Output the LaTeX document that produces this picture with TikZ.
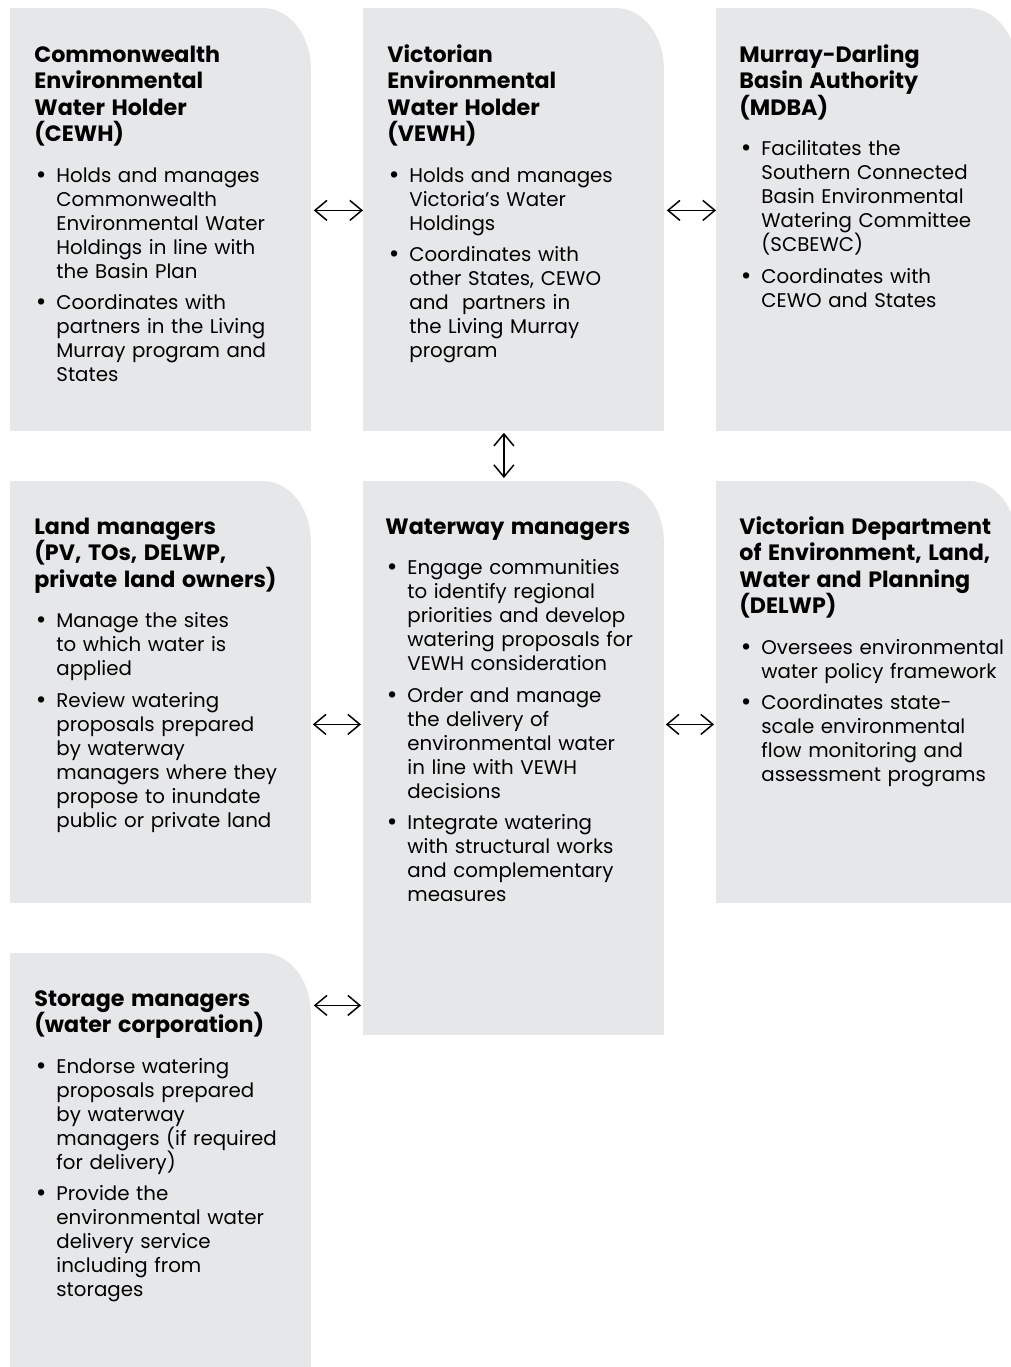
\documentclass[tikz,border=0pt]{standalone}
\usepackage{fontspec}
\setmainfont{Poppins}
\usepackage{tikz}
\usetikzlibrary{arrows.meta,positioning}

\definecolor{panelgrey}{RGB}{230,231,232}
\setlength{\parskip}{0pt}

% heading and bullet lines inside a panel
\newcommand{\hd}[1]{{\bfseries\fontsize{11.1pt}{13.25pt}\selectfont #1\par}\vspace{4.5pt}}
\newcommand{\itm}[1]{\par\vspace{3.75pt}\leftskip=11pt\noindent
  \llap{\raisebox{-0.5pt}{\scalebox{1.3}{\textbullet}}\hspace{5pt}}#1\par}

\begin{document}
\begin{tikzpicture}[x=0.5pt,y=-0.5pt, >={Straight Barb[length=6pt,width=10pt]}]
		\tikzstyle{panel}=[anchor=north west, inner sep=0pt, minimum width=150pt]
		\tikzstyle{txt}=[anchor=base west, inner sep=0pt, text width=142pt, align=left,
		  font=\fontsize{9.9pt}{12pt}\selectfont]
		\tikzstyle{link}=[<->, line width=0.75pt]
		
		\useasboundingbox (0,0) rectangle (1011,1367);
		\clip (0,0) rectangle (1011,1367);
		
		% panels
		\node[panel, minimum height=211pt]   (cewh)     at (10,8)    {};
		\node[panel, minimum height=211pt]   (vewh)     at (363,8)   {};
		\node[panel, minimum height=211pt]   (mdba)     at (716,8)   {};
		\node[panel, minimum height=210.5pt] (land)     at (10,481)  {};
		\node[panel, minimum height=276.5pt] (waterway) at (363,481) {};
		\node[panel, minimum height=210.5pt] (delwp)    at (716,481) {};
		\node[panel, minimum height=207pt]   (storage)  at (10,953)  {};
		
		\foreach \n in {cewh,vewh,mdba,land,waterway,delwp,storage}
		  \fill[panelgrey] (\n.south west) -- (\n.north west) -- ([xshift=-24pt]\n.north east)
		    arc[start angle=90, end angle=0, x radius=24pt, y radius=30pt] -- (\n.south east) -- cycle;
		
		% texts
		\node[txt] (cewhtxt) at ([xshift=12pt,yshift=-27pt]cewh.north west) {%
		  \hd{Commonwealth\\ Environmental\\ Water Holder\\ (CEWH)}%
		  \itm{Holds and manages\\ Commonwealth\\ Environmental Water\\ Holdings in line with\\ the Basin Plan}%
		  \itm{Coordinates with\\ partners in the Living\\ Murray program and\\ States}};
		
		\node[txt] (vewhtxt) at ([xshift=12pt,yshift=-27pt]vewh.north west) {%
		  \hd{Victorian\\ Environmental\\ Water Holder\\ (VEWH)}%
		  \itm{Holds and manages\\ Victoria's Water\\ Holdings}%
		  \itm{Coordinates with\\ other States, CEWO\\ and~ partners in\\ the Living Murray\\ program}};
		
		\node[txt] (mdbatxt) at ([xshift=11.5pt,yshift=-27pt]mdba.north west) {%
		  \hd{Murray-Darling\\ Basin Authority\\ (MDBA)}%
		  \itm{Facilitates the\\ Southern Connected\\ Basin Environmental\\ Watering Committee\\ (SCBEWC)}%
		  \itm{Coordinates with\\ CEWO and States}};
		
		\node[txt] (landtxt) at ([xshift=12pt,yshift=-26.5pt]land.north west) {%
		  \hd{Land managers\\ (PV, TOs, DELWP,\\ private land owners)}%
		  \itm{Manage the sites\\ to which water is\\ applied}%
		  \itm{Review watering\\ proposals prepared\\ by waterway\\ managers where they\\ propose to inundate\\ public or private land}};
		
		\node[txt] (waterwaytxt) at ([xshift=11pt,yshift=-26.5pt]waterway.north west) {%
		  \hd{Waterway managers}%
		  \itm{Engage communities\\ to identify regional\\ priorities and develop\\ watering proposals for\\ VEWH consideration}%
		  \itm{Order and manage\\ the delivery of\\ environmental water\\ in line with VEWH\\ decisions}%
		  \itm{Integrate watering\\ with structural works\\ and complementary\\ measures}};
		
		\node[txt] (delwptxt) at ([xshift=11.5pt,yshift=-26.5pt]delwp.north west) {%
		  \hd{Victorian Department\\ of Environment, Land,\\ Water and Planning\\ (DELWP)}%
		  \itm{Oversees environmental\\ water policy framework}%
		  \itm{Coordinates state-\\ scale environmental\\ flow monitoring and\\ assessment programs}};
		
		\node[txt] (storagetxt) at ([xshift=12pt,yshift=-26.5pt]storage.north west) {%
		  \hd{Storage managers\\ (water corporation)}%
		  \itm{Endorse watering\\ proposals prepared\\ by waterway\\ managers (if required\\ for delivery)}%
		  \itm{Provide the\\ environmental water\\ delivery service\\ including from\\ storages}};
		
		% links
		\draw[link, shorten <=1.5pt] ([yshift=4.5pt]cewh.east) -- ([yshift=4.5pt]cewh.east -| vewh.west);
		\draw[link, shorten <=1.5pt] ([yshift=4.5pt]vewh.east) -- ([yshift=4.5pt]vewh.east -| mdba.west);
		\draw[link, shorten <=1pt, shorten >=1.5pt] ([xshift=-4.75pt]vewh.south) -- ([xshift=-4.75pt]vewh.south |- waterway.north);
		\draw[link, shorten <=1pt, shorten >=1pt] ([yshift=-16.25pt]land.east) -- ([yshift=-16.25pt]land.east -| waterway.west);
		\draw[link, shorten <=1pt, shorten >=1pt] ([yshift=-16.25pt]land.east -| waterway.east) -- ([yshift=-16.25pt]land.east -| delwp.west);
		\draw[link, shorten <=1.5pt, shorten >=1pt] ([yshift=77.5pt]storage.east) -- ([yshift=77.5pt]storage.east -| waterway.west);
\end{tikzpicture}
\end{document}
